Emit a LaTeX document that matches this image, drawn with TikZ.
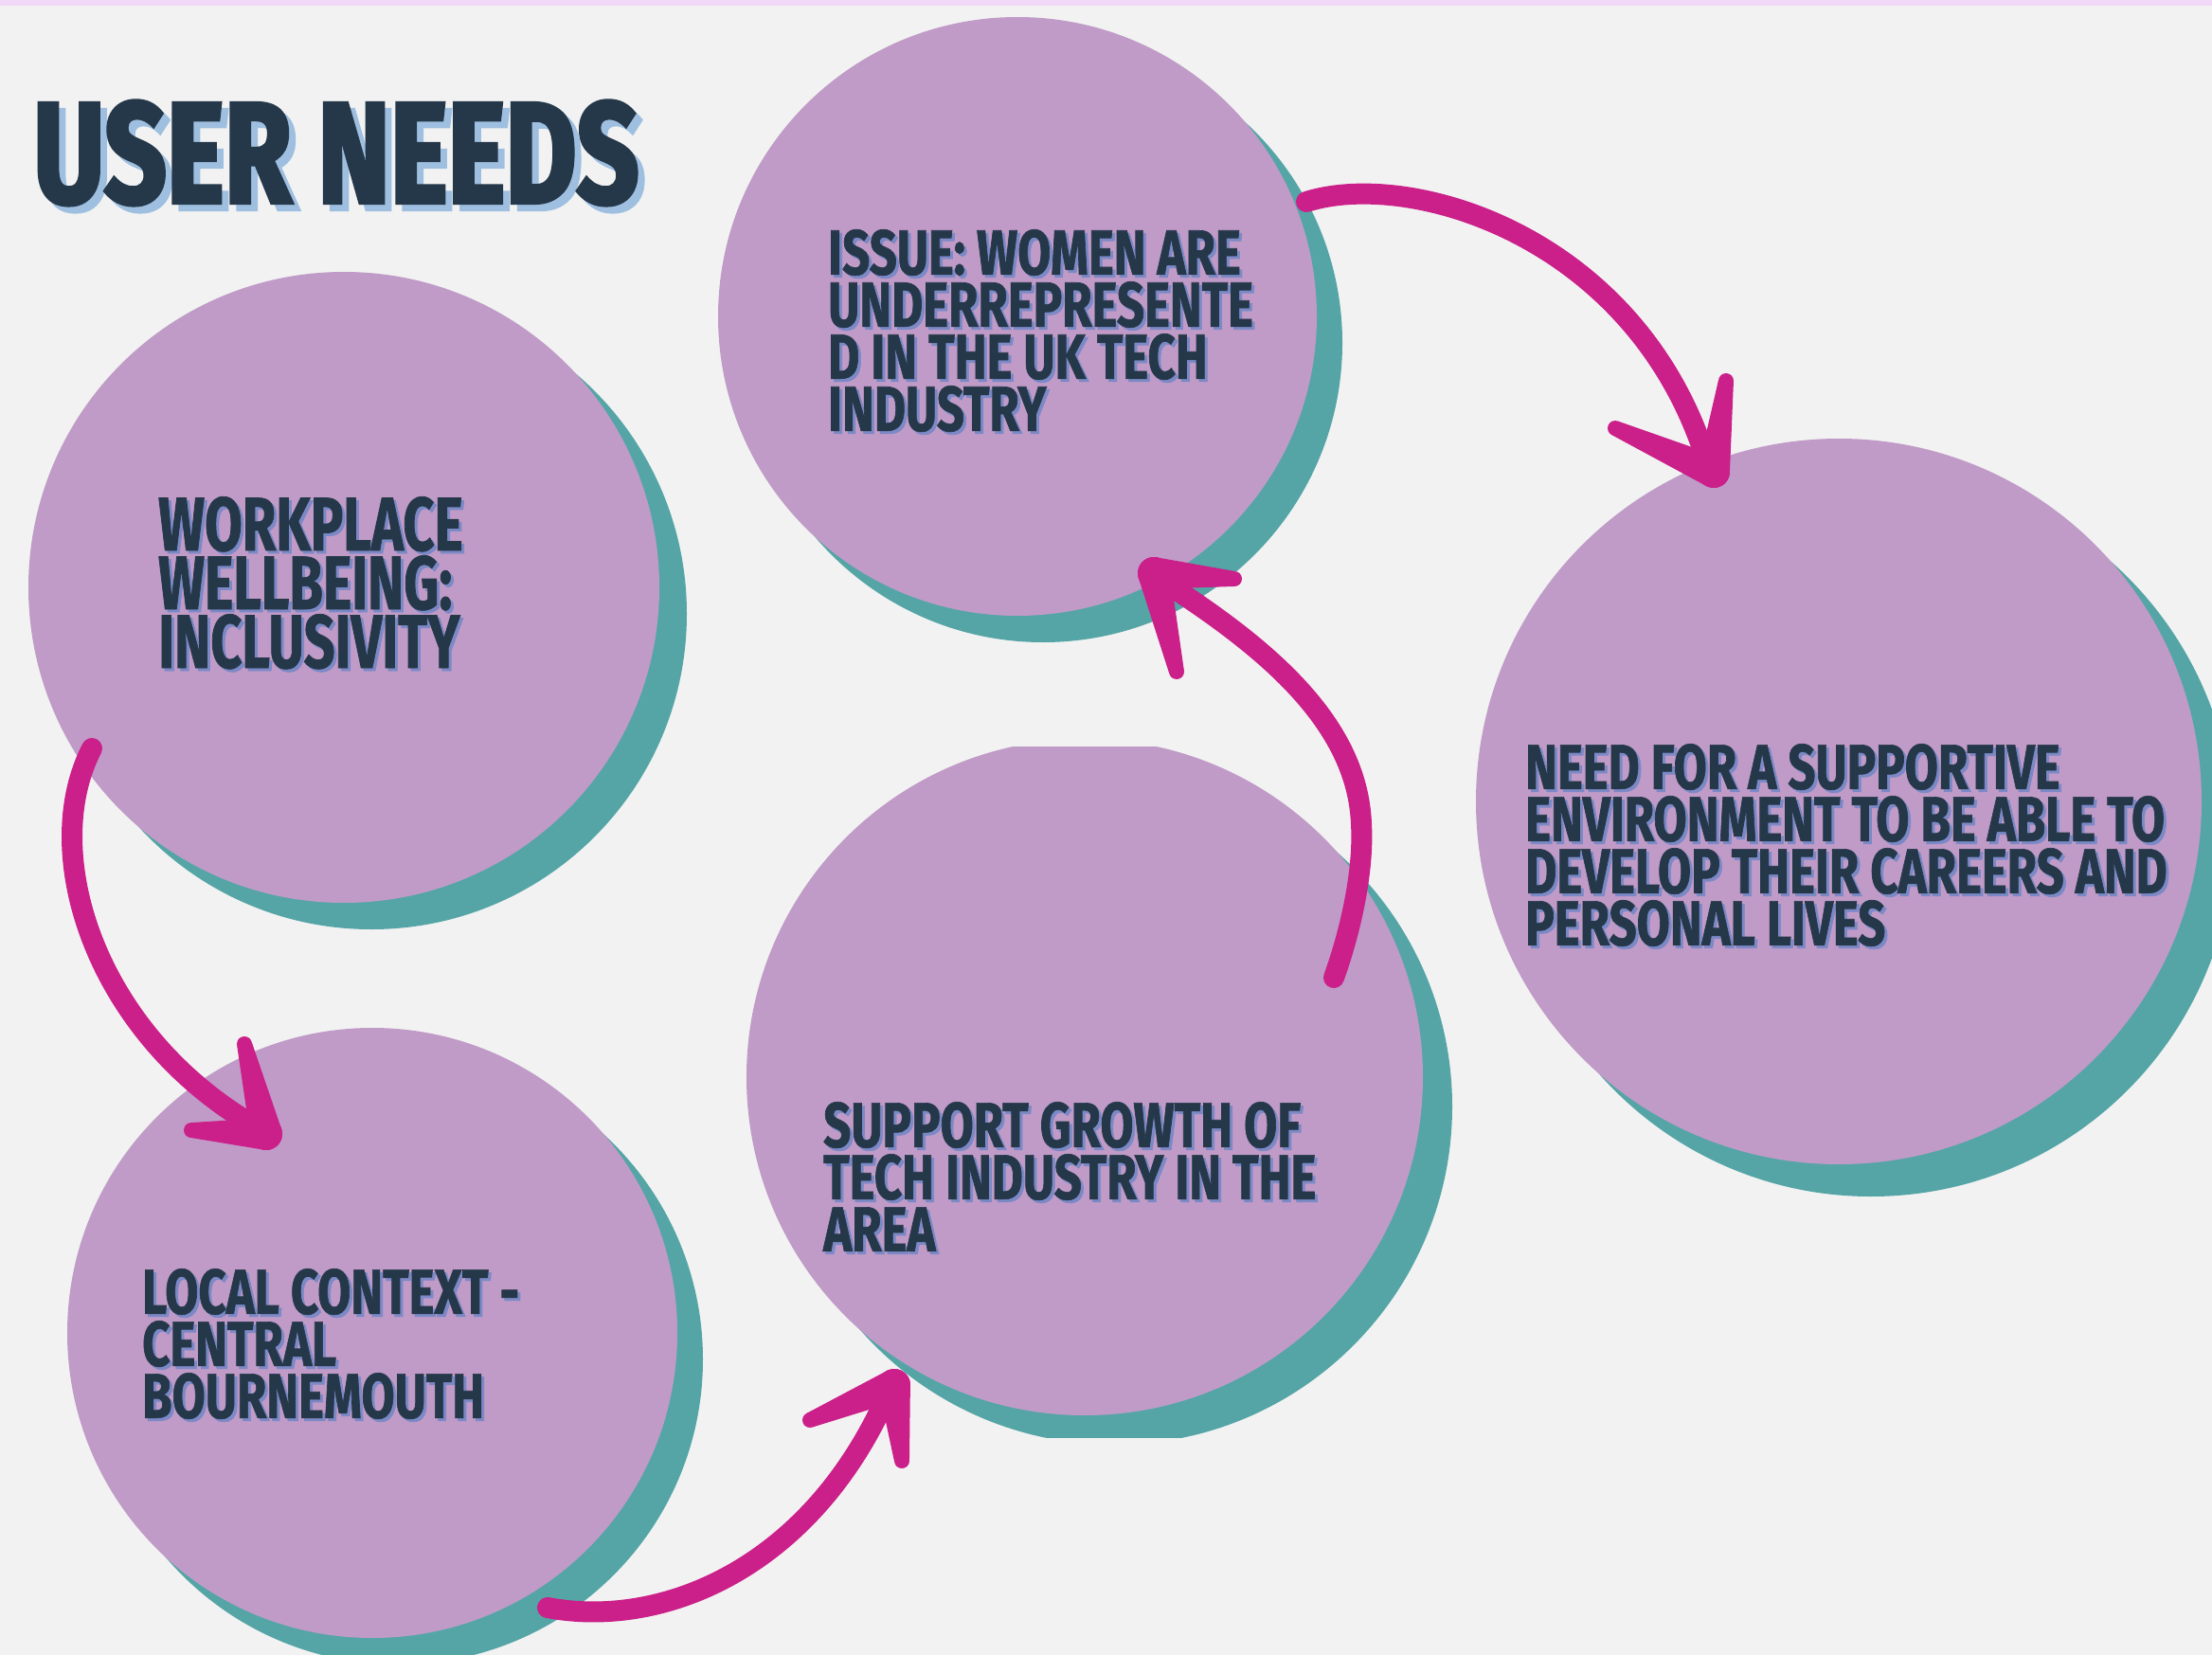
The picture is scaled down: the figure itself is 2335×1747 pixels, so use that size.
\documentclass[tikz,border=0pt]{standalone}
\usepackage{fontspec}
\usetikzlibrary{calc}

% condensed display faces for the captions and the heading
\newfontfamily\bodyfont[FakeStretch=0.76, FakeBold=1]{Fira Sans}
\newfontfamily\wellfont[FakeStretch=0.72, FakeBold=1]{Fira Sans}
\newfontfamily\headfont[FakeStretch=0.76, FakeBold=2.5]{Fira Sans}

\definecolor{paper}{HTML}{F2F2F2}
\definecolor{topband}{HTML}{F2D8F8}
\definecolor{bubblefill}{HTML}{C09BC7}
\definecolor{bubbleshadow}{HTML}{55A5A6}
\definecolor{brushc}{HTML}{CB1F89}
\definecolor{ink}{HTML}{25384A}
\definecolor{inkshadow}{HTML}{7B89C6}
\definecolor{headshadow}{HTML}{9EBFE0}

\tikzset{
  bubble/.style={circle, fill=bubblefill, inner sep=0pt},
  bubbleshade/.style={fill=bubbleshadow},
  captiontext/.style={anchor=north west, inner sep=0pt, align=left, text=ink,
    font=\bodyfont\bfseries\fontsize{67}{55}\selectfont},
  bigcaptiontext/.style={captiontext, font=\wellfont\bfseries\fontsize{80}{62}\selectfont},
  headtext/.style={anchor=north west, inner sep=0pt, text=ink,
    font=\headfont\bfseries\fontsize{152}{152}\selectfont},
  brush/.style={draw=brushc, line width=22pt, line cap=round, line join=round},
}

% caption with its offset drop shadow
\newcommand\shadedlabel[4]{%
  \node[#2, text=inkshadow] at ($(#3)+(3,3)$) {#4};
  \node[#2] (#1) at (#3) {#4};
}

% one tapered barb of a brush arrowhead: from tip #1 to free end #2
\newcommand\brushbarb[2]{%
  \fill[brushc] ($(#1)!17pt!90:(#2)$) -- ($(#2)!8pt!-90:(#1)$)
    -- ($(#2)!8pt!90:(#1)$) -- ($(#1)!17pt!-90:(#2)$) -- cycle;
  \fill[brushc] (#2) circle[radius=8];
  \fill[brushc] (#1) circle[radius=17];
}

\begin{document}
\begin{tikzpicture}[x=1pt, y=-1pt]
  \useasboundingbox (0,0) rectangle (2335,1747);
  \clip (0,0) rectangle (2335,1747);
  \fill[paper] (0,0) rectangle (2335,1747);
  \fill[topband] (0,0) rectangle (2335,6);

  % centres of the five bubbles
  \coordinate (c-issue) at (1074,334);
  \coordinate (c-well)  at (363,620);
  \coordinate (c-local) at (393,1407);
  \coordinate (c-grow)  at (1145,1137);
  \coordinate (c-need)  at (1941,846);

  % bubbles with their teal drop shadows
  \fill[bubbleshade] ($(c-issue)+(27,28)$) circle[radius=316];
  \node[bubble, minimum size=632] (issue) at (c-issue) {};

  \fill[bubbleshade] ($(c-well)+(29,28)$) circle[radius=333];
  \node[bubble, minimum size=666] (well) at (c-well) {};

  \fill[bubbleshade] ($(c-local)+(27,28)$) circle[radius=322];
  \node[bubble, minimum size=644] (local) at (c-local) {};

  \begin{scope}
    \clip (0,788) rectangle (2335,1517);
    \fill[bubbleshade] ($(c-grow)+(31,31)$) circle[radius=357];
    \node[bubble, minimum size=714] (grow) at (c-grow) {};
  \end{scope}

  \fill[bubbleshade] ($(c-need)+(34,34)$) circle[radius=383];
  \node[bubble, minimum size=766] (need) at (c-need) {};

  % heading
  \node[headtext, text=headshadow] at (42,113) {USER NEEDS};
  \node[headtext] (head) at (35,106) {USER NEEDS};

  % captions
  \shadedlabel{t-issue}{captiontext}{874,242}{ISSUE: WOMEN ARE\\UNDERREPRESENTE\\D IN THE UK TECH\\INDUSTRY}
  \shadedlabel{t-well}{bigcaptiontext}{167,524}{WORKPLACE\\WELLBEING:\\INCLUSIVITY}
  \shadedlabel{t-local}{captiontext}{150,1339}{LOCAL CONTEXT -\\CENTRAL\\BOURNEMOUTH}
  \shadedlabel{t-grow}{captiontext}{869,1163}{SUPPORT GROWTH OF\\TECH INDUSTRY IN THE\\AREA}
  \shadedlabel{t-need}{captiontext}{1610,785}{NEED FOR A SUPPORTIVE\\ENVIRONMENT TO BE ABLE TO\\DEVELOP THEIR CAREERS AND\\PERSONAL LIVES}

  % brush arrows: start, shaft end, tip and barb ends
  \coordinate (a1s) at (1379,213);
  \coordinate (a1e) at (1800,482);
  \coordinate (a1t) at (1809,498);
  \coordinate (a1b) at (1822,402);
  \coordinate (a1c) at (1705,452);
  \draw[brush] (a1s) .. controls (1490,178) and (1725,250) .. (a1e);
  \brushbarb{a1t}{a1b}
  \brushbarb{a1t}{a1c}

  \coordinate (a2s) at (97,790);
  \coordinate (a2e) at (268,1188);
  \coordinate (a2t) at (281,1197);
  \coordinate (a2b) at (258,1102);
  \coordinate (a2c) at (202,1193);
  \draw[brush] (a2s) .. controls (40,900) and (100,1090) .. (a2e);
  \brushbarb{a2t}{a2b}
  \brushbarb{a2t}{a2c}

  \coordinate (a3s) at (578,1697);
  \coordinate (a3e) at (936,1474);
  \coordinate (a3t) at (944,1462);
  \coordinate (a3b) at (952,1542);
  \coordinate (a3c) at (855,1499);
  \draw[brush] (a3s) .. controls (700,1720) and (855,1655) .. (a3e);
  \brushbarb{a3t}{a3b}
  \brushbarb{a3t}{a3c}

  \coordinate (a4s) at (1408,1032);
  \coordinate (a4m) at (1437,870);
  \coordinate (a4e) at (1230,615);
  \coordinate (a4t) at (1218,605);
  \coordinate (a4b) at (1242,709);
  \coordinate (a4c) at (1303,611);
  \draw[brush] (a4s) .. controls (1425,985) and (1440,920) .. (a4m)
    .. controls (1433,760) and (1330,680) .. (a4e);
  \brushbarb{a4t}{a4b}
  \brushbarb{a4t}{a4c}
\end{tikzpicture}
\end{document}
